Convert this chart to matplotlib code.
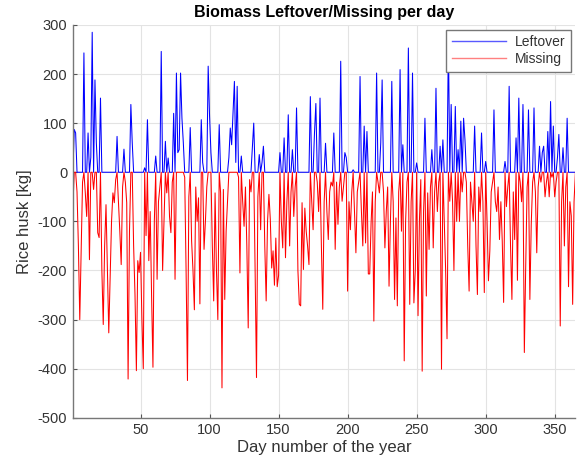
import numpy as np
import matplotlib
matplotlib.use("Agg")
import matplotlib.pyplot as plt
from matplotlib.lines import Line2D

# net daily balance: positive = leftover, negative = missing
net = [
    -69, 87, 80, -40, -150, -300, -160, -20, 243, -42,
    -90, 80, -178, 30, 285, -35, 188, 60, -123, -133,
    151, -200, -310, -150, -66, -200, -327, -210, -100, -42,
    -62, -15, 73, -60, -120, -188, -30, 47, -20, -62,
    -421, -120, 138, 60, -150, -250, -404, -180, -204, -163,
    -300, -400, 9, -129, 107, -180, -80, -250, -397, -100,
    33, -218, -60, -30, 246, -200, -100, 63, -42, 29,
    -90, -123, -20, 120, -218, 202, 40, 46, 202, 110,
    60, -10, -200, -424, -50, 91, -140, -200, -280, -30,
    -100, -52, -268, 107, 20, -157, -100, -30, 216, 114,
    40, -150, -262, -42, -200, -300, 97, -42, -439, -35,
    -259, -120, -60, 30, 90, 56, 120, 185, 20, 175,
    -10, -205, 33, -60, -110, -30, -150, -317, -15, -40,
    50, 100, -200, -418, -50, 36, -117, 20, 53, -150,
    -262, -100, -45, -96, -195, -160, -230, -134, -233, -210,
    40, -100, -154, 70, -174, -60, 117, -150, -40, 46,
    -90, -30, 131, -200, -269, -272, -62, -198, -73, -120,
    -150, -188, 154, -60, -117, 80, 140, -20, -80, 151,
    -150, -279, -60, 59, -80, -137, -40, -20, -28, 80,
    -157, -20, -106, -30, 226, -59, -30, 40, 30, -242,
    -60, -117, -40, 5, -80, -164, -40, -20, 195, -80,
    -150, 94, -144, 83, -207, -207, -103, -40, -303, -60,
    202, -20, -42, 60, 188, -40, -154, -80, -30, -232,
    -100, 185, -60, -259, -93, -272, -40, 209, -120, 56,
    -384, -100, -20, 253, -269, -60, 202, -266, -200, 19,
    -292, -100, -15, -405, -80, 110, -252, -42, -157, -30,
    46, -154, -40, 171, -80, -20, 53, -401, 66, -100,
    -200, -339, 270, -59, 138, -59, -200, 134, -100, 46,
    -100, 104, -40, 110, 66, -20, -150, -242, -20, -60,
    -100, 94, -150, -249, -30, -80, 80, -60, -245, 22,
    -100, -221, -160, -40, -20, 127, -60, -80, -30, -137,
    -60, -140, -265, 22, -70, -30, 175, -150, -259, -40,
    -137, 70, -220, 151, -20, -60, 138, -367, -191, -30,
    127, -259, -106, -20, 131, -40, -164, -30, 53, -20,
    40, 53, -50, -20, 83, -50, 144, -10, 94, -50,
    -20, 30, 77, -313, -60, 50, -150, -30, 110, -233,
    -60, -89, -269, -60, 0,
]
days = np.arange(1, len(net) + 1)
leftover = [max(v, 0) for v in net]
missing = [min(v, 0) for v in net]

xticks = [50, 100, 150, 200, 250, 300, 350]
yticks = [-500, -400, -300, -200, -100, 0, 100, 200, 300]

plt.rcParams['font.family'] = ['Liberation Sans', 'DejaVu Sans']
plt.rcParams['axes.unicode_minus'] = False

fig = plt.figure(figsize=(5.83, 4.70), dpi=100)
ax = fig.add_axes([0.125, 0.111, 0.862, 0.836])

ax.plot(days, leftover, color=(0, 0, 1), lw=0.75, label='Leftover')
ax.plot(days, missing, color=(1, 0, 0), lw=0.75, label='Missing')

ax.set_xlim(1, 365)
ax.set_ylim(-500, 300)
ax.set_xticks(xticks)
ax.set_yticks(yticks)
ax.grid(True, color='#e3e3e3', lw=0.8)
ax.set_axisbelow(True)
ax.tick_params(direction='in', length=3, color='#555555', labelsize=10.5,
               labelcolor='#333333', top=False, right=False, pad=4)
for s in ['left', 'bottom']:
    ax.spines[s].set_color('#777777')
    ax.spines[s].set_linewidth(1.0)
for s in ['top', 'right']:
    ax.spines[s].set_visible(False)

ax.set_title('Biomass Leftover/Missing per day', fontsize=11.5, fontweight='bold', pad=6)
ax.set_xlabel('Day number of the year', fontsize=12, color='#333333', labelpad=2)
ax.set_ylabel('Rice husk [kg]', fontsize=12, color='#333333', labelpad=4)

handles = [Line2D([], [], color=(0.35, 0.35, 1), lw=1.0),
           Line2D([], [], color=(1, 0.5, 0.5), lw=1.0)]
leg = ax.legend(handles, ['Leftover', 'Missing'], loc='upper right', fontsize=10,
                frameon=True, fancybox=False, borderaxespad=0.35, handlelength=3.9,
                handletextpad=0.6, borderpad=0.4, labelspacing=0.2)
leg.get_frame().set_edgecolor('#777777')
leg.get_frame().set_linewidth(1.0)
leg.get_frame().set_alpha(1)
for t in leg.get_texts():
    t.set_color('#333333')

fig.savefig('out.png', dpi=100)
